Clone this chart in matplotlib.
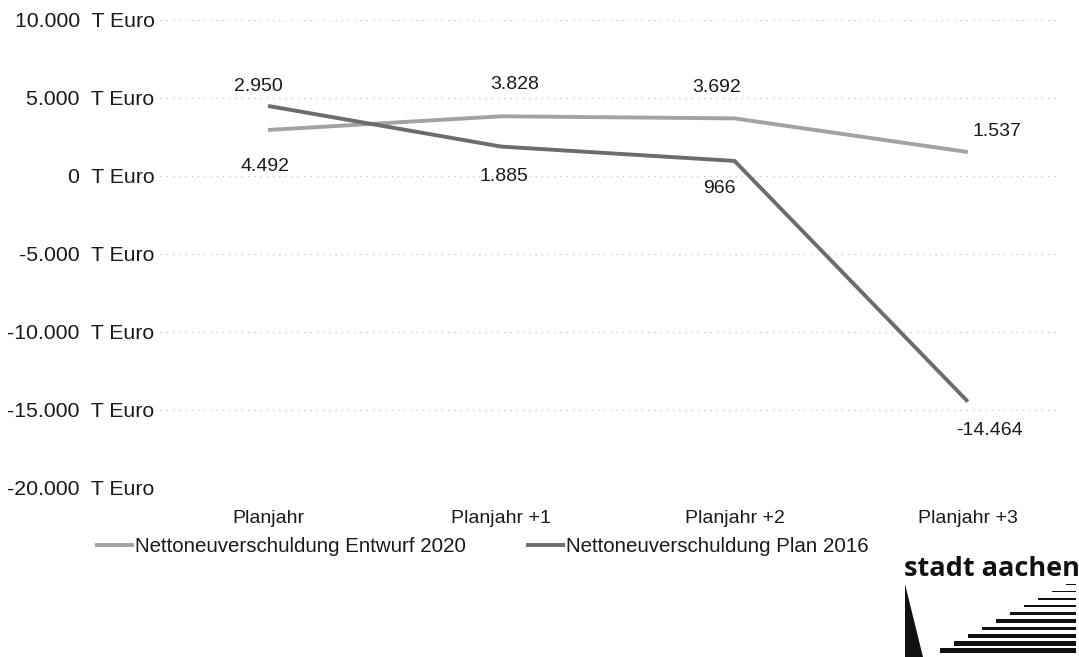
import matplotlib
matplotlib.use("Agg")
import matplotlib.pyplot as plt
from matplotlib.patches import Polygon, Rectangle
from matplotlib.ticker import FuncFormatter

plt.rcParams["font.family"] = ["Liberation Sans", "DejaVu Sans"]

categories = ["Planjahr", "Planjahr +1", "Planjahr +2", "Planjahr +3"]
entwurf_2020 = [2950, 3828, 3692, 1537]
plan_2016 = [4492, 1885, 966, -14464]
y_ticks = [10000, 5000, 0, -5000, -10000, -15000, -20000]

LIGHT = "#a2a2a2"
DARK = "#6c6c6c"
TXT = "#1a1a1a"
FS = 14

W, H = 1079, 657
fig = plt.figure(figsize=(W / 100, H / 100), dpi=100)
ax = fig.add_axes([160 / W, 1 - 488 / H, 900 / W, 468 / H])


def fmt(v, _pos=None):
    s = f"{int(v):,}".replace(",", ".")
    return f"{s}  T Euro"


x = list(range(len(categories)))
ax.plot(x, entwurf_2020, color=LIGHT, lw=2.8, solid_capstyle="butt",
        label="Nettoneuverschuldung Entwurf 2020", zorder=3)
ax.plot(x, plan_2016, color=DARK, lw=2.8, solid_capstyle="butt",
        label="Nettoneuverschuldung Plan 2016", zorder=3)

ax.set_xlim(-0.463, 3.395)
ax.set_ylim(-20000, 10000)
ax.set_yticks(y_ticks)
ax.yaxis.set_major_formatter(FuncFormatter(fmt))
ax.set_xticks(x)
ax.set_xticklabels(categories)
ax.tick_params(axis="both", length=0, labelcolor=TXT)
ax.tick_params(axis="x", pad=16, labelsize=FS)
ax.tick_params(axis="y", pad=4, labelsize=15.3)
ax.grid(axis="y", color="#c4c4c4", linestyle=(0, (1, 4)), lw=0.9)
for sp in ax.spines.values():
    sp.set_visible(False)

# value labels, offsets in pixels (dx, dy up)
off_2020 = [(-10, 43), (13, 32), (-18, 31), (29, 21)]
off_2016 = [(-3, -61), (3, -30), (-15, -28), (22, -29)]
for vals, offs in ((entwurf_2020, off_2020), (plan_2016, off_2016)):
    for xi, v, (dx, dy) in zip(x, vals, offs):
        ax.annotate(fmt(v).replace("  T Euro", ""), (xi, v),
                    xytext=(dx * 0.72, dy * 0.72), textcoords="offset points",
                    ha="center", va="center", fontsize=FS, color=TXT)

leg = fig.legend(loc="center left", bbox_to_anchor=(95 / W, 1 - 547 / H),
                 ncol=2, frameon=False, fontsize=14.8, handlelength=1.9,
                 handletextpad=0.05, columnspacing=2.9, borderpad=0,
                 borderaxespad=0)
for t in leg.get_texts():
    t.set_color(TXT)

# stadt aachen logo
lg = fig.add_axes([0, 0, 1, 1], zorder=-1)
lg.set_xlim(0, W)
lg.set_ylim(H, 0)
lg.axis("off")
lg.text(904, 576, "stadt aachen", fontsize=19.5, fontweight="bold",
        family="Open Sans", color="#111111", ha="left", va="baseline")
lg.add_patch(Polygon([(905, 584), (905, 657), (923, 657)], closed=True,
                     facecolor="#111111", edgecolor="none"))
n = 10
for i in range(n):
    y0 = 584 + i * 7.4
    th = 1 + i * 0.45
    xs = 1066 - i * 14
    lg.add_patch(Rectangle((xs, y0 - th / 2), 1076 - xs, th,
                           facecolor="#111111", edgecolor="none"))

fig.savefig("out.png", dpi=100)
